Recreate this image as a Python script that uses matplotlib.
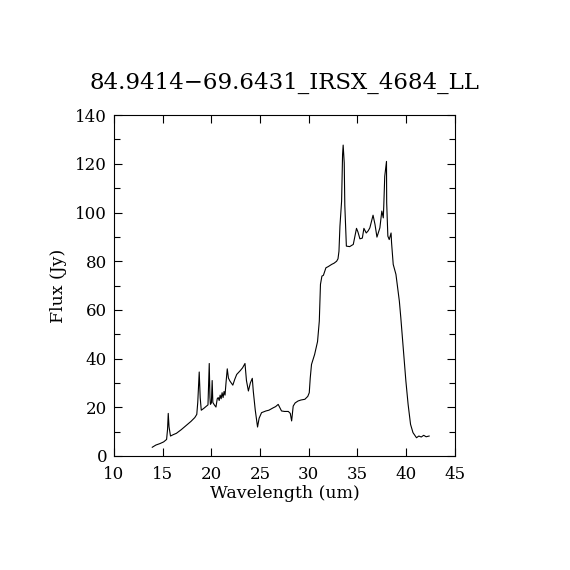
import matplotlib
matplotlib.use("Agg")
import matplotlib.pyplot as plt
from matplotlib.ticker import MultipleLocator

# Spectrum
wavelength = [
    13.93, 14.3, 14.72, 15.1, 15.4, 15.5, 15.57, 15.65, 15.8, 16.1, 16.4, 16.9,
    17.4, 17.9, 18.3, 18.5, 18.6, 18.75, 18.85, 18.96, 19.2, 19.5, 19.65, 19.78,
    19.85, 19.9, 20.0, 20.08, 20.15, 20.3, 20.47, 20.6, 20.7, 20.8, 20.9, 21.0,
    21.1, 21.2, 21.3, 21.4, 21.5, 21.63, 21.75, 21.9, 22.2, 22.4, 22.6, 22.95,
    23.2, 23.45, 23.6, 23.8, 24.0, 24.2, 24.3, 24.5, 24.74, 24.9, 25.15, 25.6,
    25.9, 26.35, 26.6, 26.86, 27.2, 27.5, 27.9, 28.1, 28.24, 28.4, 28.6, 28.9,
    29.2, 29.6, 29.9, 30.05, 30.15, 30.28, 30.6, 30.9, 31.08, 31.2, 31.35, 31.5,
    31.76, 32.0, 32.35, 32.6, 32.86, 33.0, 33.1, 33.2, 33.37, 33.47, 33.53, 33.64,
    33.7, 33.8, 33.86, 34.2, 34.57, 34.74, 34.9, 35.05, 35.25, 35.5, 35.66, 35.9,
    36.1, 36.27, 36.6, 36.8, 37.0, 37.3, 37.5, 37.65, 37.7, 37.8, 37.98, 38.0,
    38.12, 38.26, 38.45, 38.5, 38.67, 38.95, 39.08, 39.3, 39.45, 39.7, 39.97,
    40.2, 40.45, 40.7, 41.06, 41.3, 41.55, 41.8, 42.05, 42.36,
]
flux = [
    3.6, 4.5, 5.1, 5.8, 6.8, 11.0, 17.5, 12.0, 8.2, 8.8, 9.3, 10.8,
    12.5, 14.2, 15.8, 17.1, 22.0, 34.5, 24.0, 18.8, 19.5, 20.5, 21.0, 38.0,
    24.0, 21.2, 21.8, 31.0, 22.0, 21.0, 20.1, 23.5, 24.0, 22.8, 25.0, 23.5,
    26.0, 24.0, 26.5, 25.0, 30.0, 35.8, 32.0, 30.8, 29.1, 31.5, 33.5, 35.0,
    36.2, 38.0, 31.0, 26.7, 30.0, 31.9, 26.7, 19.0, 11.9, 15.5, 17.8, 18.5,
    18.8, 19.8, 20.3, 21.2, 18.5, 18.3, 18.3, 17.5, 14.4, 20.5, 21.8, 22.6,
    23.0, 23.3, 24.5, 26.0, 32.0, 37.6, 41.7, 47.0, 55.4, 70.5, 73.9, 74.2,
    77.3, 77.8, 78.7, 79.2, 80.0, 81.0, 84.1, 94.4, 104.7, 123.8, 127.7, 120.4,
    103.0, 93.0, 86.2, 86.0, 86.9, 90.3, 93.5, 92.0, 89.2, 89.5, 93.5, 91.6,
    92.5, 93.7, 98.9, 95.1, 89.9, 93.7, 100.6, 97.8, 102.6, 114.9, 121.0, 104.0,
    90.3, 88.9, 91.6, 87.6, 78.7, 74.6, 70.5, 63.6, 56.8, 44.5, 30.8,
    21.2, 13.0, 9.6, 7.5, 8.2, 7.8, 8.5, 7.9, 8.2,
]

title = "84.9414\u221269.6431_IRSX_4684_LL"

plt.rcParams["font.family"] = ["DejaVu Serif"]

fig = plt.figure(figsize=(5.7, 5.7), dpi=100)
ax = fig.add_axes([0.2, 0.2, 0.598, 0.598])

ax.plot(wavelength, flux, color="black", linewidth=0.8)

ax.set_xlim(10, 45)
ax.set_ylim(0, 140)
ax.xaxis.set_major_locator(MultipleLocator(5))
ax.yaxis.set_major_locator(MultipleLocator(20))
ax.yaxis.set_minor_locator(MultipleLocator(10))

ax.tick_params(which="both", direction="in", top=True, right=True,
               width=0.8, labelsize=12)
ax.tick_params(which="major", length=6)
ax.tick_params(which="minor", length=4)
ax.tick_params(axis="x", which="major", pad=7)
ax.tick_params(axis="y", which="major", pad=5)
for sp in ax.spines.values():
    sp.set_linewidth(0.8)

ax.set_xlabel("Wavelength (um)", fontsize=12.5, labelpad=2)
ax.set_ylabel("Flux (Jy)", fontsize=12.5, labelpad=6)
ax.set_title(title, fontsize=16.5, pad=19)

fig.savefig("out.png", dpi=100)
